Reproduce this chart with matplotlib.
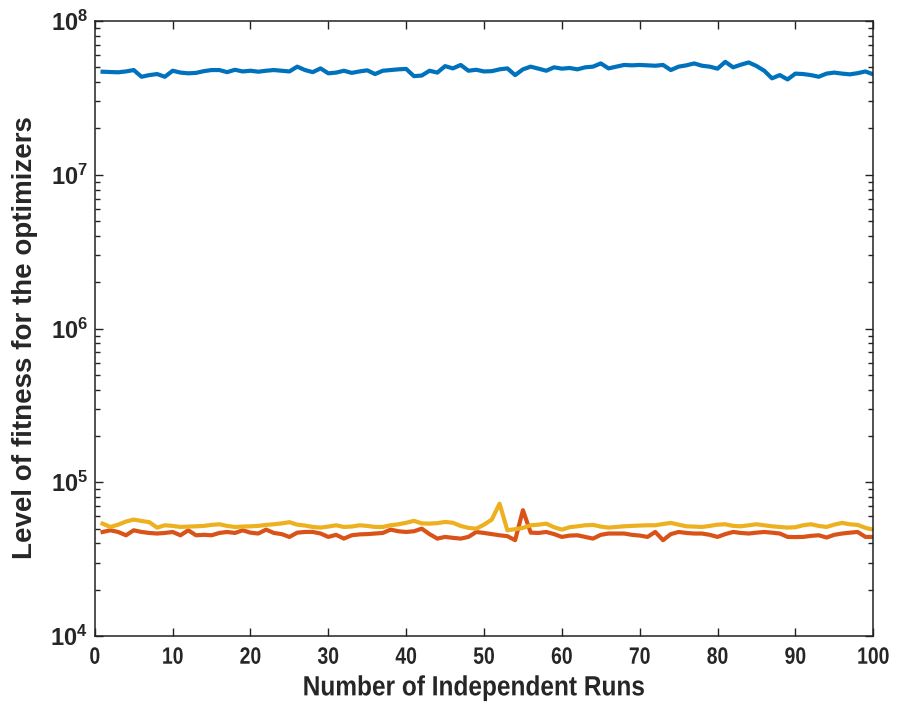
import matplotlib
matplotlib.use("Agg")
import matplotlib.pyplot as plt
import numpy as np
from matplotlib.ticker import LogLocator, NullFormatter, FixedLocator
from matplotlib.patheffects import AbstractPathEffect
from matplotlib.transforms import Affine2D

runs = list(range(1, 101))

blue_e7 = [4.68, 4.66, 4.64, 4.70, 4.80, 4.34, 4.45, 4.52, 4.34, 4.75,
           4.62, 4.57, 4.60, 4.72, 4.80, 4.80, 4.65, 4.82, 4.70, 4.75,
           4.68, 4.75, 4.80, 4.75, 4.70, 5.05, 4.80, 4.65, 4.92, 4.57,
           4.62, 4.75, 4.60, 4.70, 4.78, 4.52, 4.75, 4.80, 4.85, 4.88,
           4.38, 4.42, 4.75, 4.62, 5.09, 4.92, 5.18, 4.75, 4.82, 4.70,
           4.72, 4.85, 4.92, 4.45, 4.85, 5.05, 4.90, 4.75, 5.00, 4.90,
           4.95, 4.85, 5.00, 5.05, 5.30, 4.92, 5.05, 5.18, 5.15, 5.18,
           5.15, 5.12, 5.18, 4.80, 5.05, 5.15, 5.30, 5.12, 5.05, 4.90,
           5.43, 5.00, 5.20, 5.38, 5.10, 4.75, 4.24, 4.45, 4.17, 4.55,
           4.52, 4.45, 4.34, 4.55, 4.62, 4.55, 4.50, 4.58, 4.70, 4.50]

orange_e4 = [4.75, 4.87, 4.75, 4.52, 4.87, 4.75, 4.68, 4.64, 4.68, 4.75,
             4.52, 4.87, 4.52, 4.55, 4.52, 4.68, 4.75, 4.68, 4.87, 4.70,
             4.64, 4.92, 4.68, 4.60, 4.41, 4.70, 4.75, 4.75, 4.64, 4.41,
             4.55, 4.30, 4.52, 4.58, 4.60, 4.64, 4.68, 4.92, 4.80, 4.75,
             4.80, 4.99, 4.60, 4.30, 4.41, 4.35, 4.30, 4.41, 4.75, 4.68,
             4.60, 4.52, 4.46, 4.20, 6.58, 4.70, 4.68, 4.75, 4.60, 4.41,
             4.50, 4.52, 4.41, 4.30, 4.55, 4.64, 4.64, 4.64, 4.55, 4.50,
             4.41, 4.75, 4.20, 4.60, 4.75, 4.68, 4.64, 4.64, 4.55, 4.41,
             4.60, 4.75, 4.68, 4.64, 4.70, 4.75, 4.70, 4.64, 4.41, 4.40,
             4.41, 4.48, 4.52, 4.37, 4.55, 4.64, 4.70, 4.75, 4.41, 4.41]

yellow_e4 = [5.38, 5.12, 5.30, 5.55, 5.72, 5.60, 5.50, 5.07, 5.25, 5.20,
             5.12, 5.15, 5.17, 5.20, 5.28, 5.33, 5.20, 5.12, 5.15, 5.17,
             5.20, 5.28, 5.33, 5.40, 5.50, 5.30, 5.23, 5.12, 5.07, 5.15,
             5.25, 5.12, 5.15, 5.25, 5.20, 5.12, 5.12, 5.25, 5.33, 5.45,
             5.61, 5.40, 5.38, 5.42, 5.52, 5.45, 5.20, 5.05, 4.99, 5.30,
             5.72, 7.26, 4.87, 4.95, 5.05, 5.25, 5.30, 5.38, 5.10, 4.92,
             5.10, 5.17, 5.25, 5.28, 5.15, 5.07, 5.12, 5.17, 5.20, 5.23,
             5.25, 5.25, 5.35, 5.44, 5.30, 5.17, 5.15, 5.12, 5.20, 5.30,
             5.33, 5.20, 5.17, 5.25, 5.33, 5.25, 5.17, 5.12, 5.07, 5.10,
             5.25, 5.33, 5.20, 5.12, 5.30, 5.44, 5.33, 5.28, 5.05, 4.92]

xticks = [0, 10, 20, 30, 40, 50, 60, 70, 80, 90, 100]
yexponents = [4, 5, 6, 7, 8]

colors = ["#0072BD", "#D95319", "#EDB120"]


class Squeeze(AbstractPathEffect):
    """Draw text horizontally condensed around its own centre."""
    def __init__(self, sx):
        super().__init__()
        self.sx = sx

    def draw_path(self, renderer, gc, tpath, affine, rgbFace=None):
        ext = tpath.get_extents()
        c = 0.5 * (ext.x0 + ext.x1)
        t = Affine2D().translate(-c, 0).scale(self.sx, 1).translate(c, 0) + affine
        renderer.draw_path(gc, tpath, t, rgbFace)


txt_color = "#262626"
fig = plt.figure(figsize=(9.03, 7.13), dpi=100)
ax = fig.add_axes([0.105, 0.108, 0.862, 0.8625])

ax.plot(runs, np.array(blue_e7) * 1e7, color=colors[0], lw=3.0)
ax.plot(runs, np.array(orange_e4) * 1e4, color=colors[1], lw=3.0)
ax.plot(runs, np.array(yellow_e4) * 1e4, color=colors[2], lw=3.0)

ax.set_yscale("log")
ax.set_xlim(0, 100)
ax.set_ylim(1e4, 1e8)
ax.xaxis.set_major_locator(FixedLocator(xticks))
ax.yaxis.set_major_locator(FixedLocator([10.0 ** e for e in yexponents]))
ax.yaxis.set_minor_locator(LogLocator(base=10, subs=np.arange(2, 10)))
ax.yaxis.set_minor_formatter(NullFormatter())

ax.tick_params(which="both", direction="in", top=True, right=True, width=1.0,
               color="#222222")
ax.tick_params(which="major", length=6)
ax.tick_params(which="minor", length=3.5)
ax.tick_params(axis="y", which="major", pad=5)
ax.tick_params(axis="x", which="major", pad=7)

for sp in ax.spines.values():
    sp.set_linewidth(1.1)
    sp.set_color("#222222")

ax.set_yticklabels([r"$\mathregular{10^{%d}}$" % e for e in yexponents],
                   fontfamily="Liberation Sans", fontweight="bold",
                   fontsize=17, color=txt_color)
ax.set_xticklabels([str(t) for t in xticks], fontfamily="Liberation Sans",
                   fontweight="bold", fontsize=17, color=txt_color)
for lab in ax.get_xticklabels():
    lab.set_path_effects([Squeeze(0.82)])

xl = ax.set_xlabel("Number of Independent Runs", fontfamily="Liberation Sans",
                   fontweight="bold", fontsize=20, color=txt_color)
xl.set_path_effects([Squeeze(0.88)])
ax.xaxis.set_label_coords(0.487, -0.064)

ax.set_ylabel("Level of fitness for the optimizers", fontfamily="Liberation Sans",
              fontweight="bold", fontsize=20, color=txt_color)
ax.yaxis.set_label_coords(-0.073, 0.485)

fig.savefig("out.png", dpi=100)
